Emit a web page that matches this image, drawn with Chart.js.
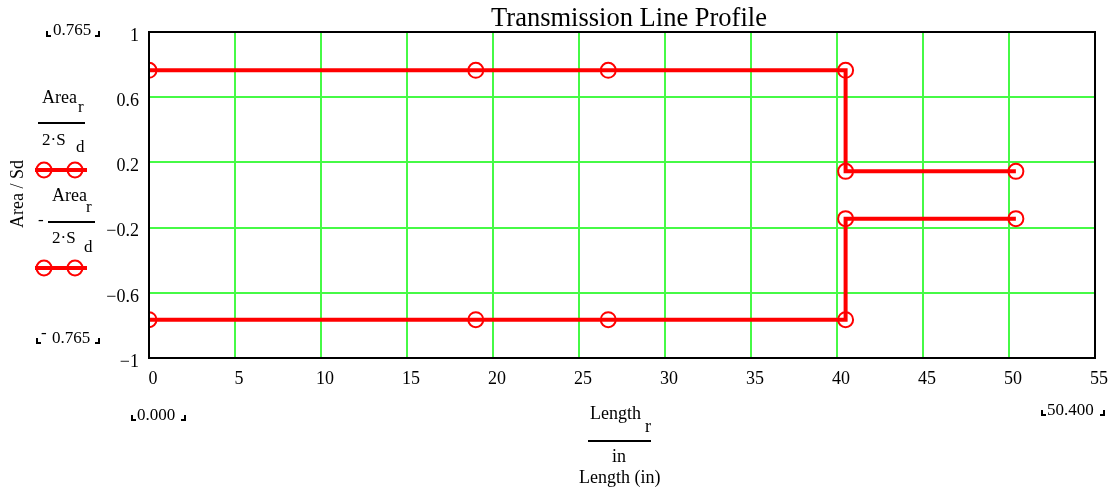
<!DOCTYPE html>
<html>
<head>
<meta charset="utf-8">
<title>Transmission Line Profile</title>
<script src="https://cdn.jsdelivr.net/npm/chart.js@4.4.0/dist/chart.umd.min.js"></script>
<style>
  body { margin: 0; background: #fff; }
  #wrap { position: relative; width: 1114px; height: 495px; font-family: "Liberation Serif", "Times New Roman", serif; color: #000; }
  #wrap canvas { position: absolute; left: 0; top: 0; }
  .t { position: absolute; line-height: 1; white-space: nowrap; font-size: 17px; }
  .t18 { font-size: 18px; }
  .bar { position: absolute; height: 2px; background: #000; }
  .bl, .br { position: absolute; width: 3px; height: 4px; border-bottom: 2px solid #000; }
  .bl { border-left: 2px solid #000; }
  .br { border-right: 2px solid #000; }
  .samp { position: absolute; }
</style>
</head>
<body>
<div id="wrap">
  <canvas id="chart"></canvas>

  <!-- titre + axes (texte Mathcad) -->
  <div class="t" style="left:629px;top:4px;font-size:26.5px;transform:translateX(-50%)">Transmission Line Profile</div>
  <div class="t t18" style="left:17px;top:194px;transform:translate(-50%,-50%) rotate(-90deg)">Area / Sd</div>

  <!-- légende série 1 -->
  <div class="t t18" style="left:42px;top:88px">Area</div>
  <div class="t" style="left:78px;top:98px">r</div>
  <div class="bar" style="left:38px;top:122px;width:47px"></div>
  <div class="t" style="left:42px;top:131px">2·S</div>
  <div class="t" style="left:76px;top:138px">d</div>
  <svg class="samp" style="left:33px;top:160px" width="56" height="20">
    <line x1="2" y1="10" x2="54" y2="10" stroke="#f00" stroke-width="4"/>
    <circle cx="11" cy="10" r="7.5" fill="none" stroke="#f00" stroke-width="2"/>
    <circle cx="42" cy="10" r="7.5" fill="none" stroke="#f00" stroke-width="2"/>
  </svg>

  <!-- légende série 2 -->
  <div class="t" style="left:38px;top:211px">-</div>
  <div class="t t18" style="left:52px;top:186px">Area</div>
  <div class="t" style="left:86px;top:198px">r</div>
  <div class="bar" style="left:48px;top:221px;width:47px"></div>
  <div class="t" style="left:52px;top:229px">2·S</div>
  <div class="t" style="left:84px;top:238px">d</div>
  <svg class="samp" style="left:33px;top:258px" width="56" height="20">
    <line x1="2" y1="10" x2="54" y2="10" stroke="#f00" stroke-width="4"/>
    <circle cx="11" cy="10" r="7.5" fill="none" stroke="#f00" stroke-width="2"/>
    <circle cx="42" cy="10" r="7.5" fill="none" stroke="#f00" stroke-width="2"/>
  </svg>

  <!-- bornes de plage -->
  <div class="bl" style="left:46px;top:31px"></div>
  <div class="t" style="left:53px;top:21px">0.765</div>
  <div class="br" style="left:95px;top:31px"></div>

  <div class="bl" style="left:36px;top:338px"></div>
  <div class="t" style="left:41px;top:324px">-</div>
  <div class="t" style="left:52px;top:329px">0.765</div>
  <div class="br" style="left:95px;top:338px"></div>

  <div class="bl" style="left:131px;top:415px"></div>
  <div class="t" style="left:137px;top:406px">0.000</div>
  <div class="br" style="left:181px;top:415px"></div>

  <div class="bl" style="left:1041px;top:410px"></div>
  <div class="t" style="left:1047px;top:401px">50.400</div>
  <div class="br" style="left:1100px;top:410px"></div>

  <!-- titre axe x -->
  <div class="t t18" style="left:590px;top:404px">Length</div>
  <div class="t t18" style="left:645px;top:417px">r</div>
  <div class="bar" style="left:588px;top:440px;width:63px"></div>
  <div class="t t18" style="left:612px;top:447px">in</div>
  <div class="t t18" style="left:579px;top:468px">Length (in)</div>
</div>

<script>
/* profil de la ligne : longueur (in) et aire normalisée */
const lengthIn = [0, 19, 26.7, 40.5, 40.5, 50.4];
const areaUpper = [0.765, 0.765, 0.765, 0.765, 0.145, 0.145];
const areaLower = [-0.765, -0.765, -0.765, -0.765, -0.145, -0.145];
const xTicks = [0, 5, 10, 15, 20, 25, 30, 35, 40, 45, 50, 55];
const yTicks = [-1, -0.6, -0.2, 0.2, 0.6, 1];
const yTickLabels = ["\u22121", "\u22120.6", "\u22120.2", "0.2", "0.6", "1"];

const RED = "#ff0000", GRID = "rgb(70,250,70)";
const FONT = { family: "'Liberation Serif', 'Times New Roman', serif", size: 18 };

const pts = ys => lengthIn.map((x, i) => ({ x, y: ys[i] }));
const serie = ys => ({
  data: pts(ys), borderColor: RED, borderWidth: 4, tension: 0, clip: 1,
  pointStyle: "circle", pointRadius: 7.5, pointBorderWidth: 2,
  pointBorderColor: RED, pointBackgroundColor: "rgba(0,0,0,0)"
});

const frame = {
  id: "frame",
  afterDraw(c) {
    const { ctx, chartArea: a } = c;
    ctx.save();
    ctx.strokeStyle = "#000"; ctx.lineWidth = 2;
    ctx.strokeRect(a.left, a.top, a.right - a.left, a.bottom - a.top);
    ctx.restore();
  }
};

new Chart(document.getElementById("chart"), {
  type: "line",
  data: { datasets: [serie(areaUpper), serie(areaLower)] },
  plugins: [frame],
  options: {
    responsive: true, maintainAspectRatio: false, animation: false,
    layout: { padding: { top: 32, right: 18, left: 0, bottom: 0 } },
    plugins: { legend: { display: false }, tooltip: { enabled: false }, title: { display: false } },
    scales: {
      x: {
        type: "linear", min: 0, max: 55,
        afterBuildTicks: s => { s.ticks = xTicks.map(v => ({ value: v })); },
        afterFit: s => { s.height = 137; },
        grid: { color: GRID, lineWidth: 2, drawTicks: false },
        border: { display: false },
        ticks: { color: "#000", font: FONT, padding: 10, labelOffset: 4, maxRotation: 0, autoSkip: false }
      },
      y: {
        type: "linear", min: -1, max: 1,
        afterBuildTicks: s => { s.ticks = yTicks.map(v => ({ value: v })); },
        afterFit: s => { s.width = 149; },
        grid: { color: GRID, lineWidth: 2, drawTicks: false },
        border: { display: false },
        ticks: {
          color: "#000", font: FONT, padding: 10, labelOffset: 4, autoSkip: false,
          callback: v => yTickLabels[yTicks.indexOf(v)] ?? ""
        }
      }
    }
  }
});
</script>
</body>
</html>
